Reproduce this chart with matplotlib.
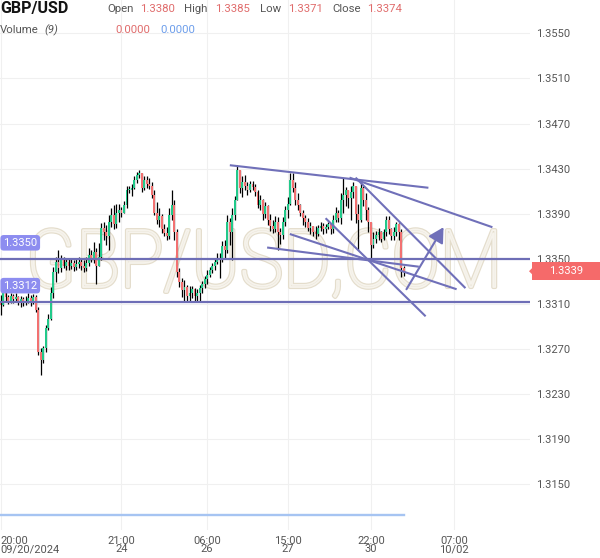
import matplotlib
matplotlib.use("Agg")
import matplotlib.pyplot as plt
import numpy as np
from matplotlib import patheffects
from matplotlib.transforms import Affine2D, blended_transform_factory
from matplotlib.patches import Rectangle, Polygon

plt.rcParams['font.family'] = ['Roboto', 'DejaVu Sans']

# ---------------- data ----------------
first_open = 1.3313
close = [1.3309, 1.3322, 1.3316, 1.3313, 1.3317, 1.3314, 1.3316, 1.3311, 1.3314, 1.3311,
         1.3313, 1.3315, 1.3311, 1.3316, 1.3305, 1.3267, 1.3260, 1.3271, 1.3289, 1.3297,
         1.3320, 1.3338, 1.3347, 1.3342, 1.3349, 1.3344, 1.3347, 1.3344, 1.3346, 1.3343,
         1.3345, 1.3347, 1.3344, 1.3342, 1.3346, 1.3353, 1.3351, 1.3356, 1.3344, 1.3352,
         1.3377, 1.3374, 1.3370, 1.3383, 1.3389, 1.3381, 1.3391, 1.3393, 1.3391, 1.3398,
         1.3411, 1.3411, 1.3413, 1.3420, 1.3424, 1.3426, 1.3413, 1.3420, 1.3416, 1.3415,
         1.3407, 1.3391, 1.3384, 1.3388, 1.3376, 1.3373, 1.3370, 1.3389, 1.3398, 1.3374,
         1.3338, 1.3329, 1.3322, 1.3325, 1.3317, 1.3320, 1.3323, 1.3317, 1.3320, 1.3324,
         1.3328, 1.3332, 1.3336, 1.3340, 1.3344, 1.3347, 1.3351, 1.3349, 1.3361, 1.3358,
         1.3383, 1.3374, 1.3389, 1.3402, 1.3429, 1.3413, 1.3418, 1.3415, 1.3411, 1.3416,
         1.3414, 1.3409, 1.3398, 1.3402, 1.3390, 1.3397, 1.3384, 1.3379, 1.3376, 1.3383,
         1.3374, 1.3371, 1.3383, 1.3393, 1.3399, 1.3420, 1.3413, 1.3402, 1.3398, 1.3391,
         1.3386, 1.3383, 1.3377, 1.3379, 1.3374, 1.3372, 1.3377, 1.3379, 1.3376, 1.3378,
         1.3381, 1.3376, 1.3384, 1.3391, 1.3386, 1.3402, 1.3407, 1.3411, 1.3404, 1.3409,
         1.3415, 1.3390, 1.3384, 1.3413, 1.3402, 1.3393, 1.3383, 1.3362, 1.3368, 1.3371,
         1.3374, 1.3368, 1.3374, 1.3384, 1.3376, 1.3370, 1.3374, 1.3381, 1.3374, 1.3342,
         1.3339]
high = [1.3318, 1.3325, 1.3324, 1.3318, 1.3320, 1.3319, 1.3320, 1.3317, 1.3317, 1.3316,
        1.3317, 1.3320, 1.3318, 1.3319, 1.3318, 1.3307, 1.3271, 1.3273, 1.3291, 1.3301,
        1.3325, 1.3343, 1.3352, 1.3358, 1.3353, 1.3352, 1.3351, 1.3350, 1.3351, 1.3349,
        1.3351, 1.3352, 1.3351, 1.3349, 1.3352, 1.3360, 1.3358, 1.3365, 1.3360, 1.3364,
        1.3382, 1.3383, 1.3380, 1.3389, 1.3395, 1.3398, 1.3399, 1.3399, 1.3396, 1.3401,
        1.3415, 1.3415, 1.3416, 1.3423, 1.3427, 1.3429, 1.3424, 1.3423, 1.3423, 1.3422,
        1.3418, 1.3411, 1.3400, 1.3395, 1.3390, 1.3381, 1.3378, 1.3395, 1.3411, 1.3402,
        1.3376, 1.3342, 1.3333, 1.3331, 1.3327, 1.3326, 1.3326, 1.3324, 1.3323, 1.3327,
        1.3330, 1.3335, 1.3340, 1.3343, 1.3346, 1.3350, 1.3355, 1.3355, 1.3366, 1.3367,
        1.3389, 1.3386, 1.3395, 1.3406, 1.3433, 1.3429, 1.3423, 1.3424, 1.3418, 1.3419,
        1.3419, 1.3416, 1.3411, 1.3407, 1.3403, 1.3400, 1.3398, 1.3390, 1.3384, 1.3388,
        1.3387, 1.3377, 1.3387, 1.3397, 1.3405, 1.3426, 1.3426, 1.3418, 1.3408, 1.3399,
        1.3393, 1.3389, 1.3386, 1.3383, 1.3377, 1.3379, 1.3380, 1.3383, 1.3382, 1.3381,
        1.3383, 1.3381, 1.3389, 1.3396, 1.3393, 1.3408, 1.3422, 1.3414, 1.3411, 1.3415,
        1.3418, 1.3406, 1.3399, 1.3420, 1.3415, 1.3408, 1.3396, 1.3377, 1.3374, 1.3375,
        1.3377, 1.3375, 1.3376, 1.3388, 1.3388, 1.3377, 1.3378, 1.3383, 1.3382, 1.3376,
        1.3344]
low = [1.3300, 1.3308, 1.3313, 1.3310, 1.3311, 1.3311, 1.3312, 1.3309, 1.3307, 1.3308,
       1.3309, 1.3311, 1.3308, 1.3310, 1.3303, 1.3265, 1.3247, 1.3258, 1.3267, 1.3287,
       1.3296, 1.3315, 1.3329, 1.3337, 1.3338, 1.3342, 1.3340, 1.3340, 1.3341, 1.3339,
       1.3340, 1.3342, 1.3340, 1.3338, 1.3339, 1.3344, 1.3347, 1.3346, 1.3328, 1.3347,
       1.3349, 1.3367, 1.3362, 1.3358, 1.3378, 1.3376, 1.3377, 1.3383, 1.3387, 1.3391,
       1.3395, 1.3408, 1.3406, 1.3412, 1.3417, 1.3422, 1.3409, 1.3411, 1.3413, 1.3412,
       1.3404, 1.3389, 1.3381, 1.3378, 1.3373, 1.3370, 1.3367, 1.3368, 1.3384, 1.3367,
       1.3334, 1.3325, 1.3316, 1.3313, 1.3312, 1.3312, 1.3315, 1.3313, 1.3312, 1.3312,
       1.3320, 1.3324, 1.3328, 1.3334, 1.3337, 1.3340, 1.3345, 1.3333, 1.3347, 1.3351,
       1.3355, 1.3362, 1.3349, 1.3384, 1.3402, 1.3408, 1.3405, 1.3411, 1.3407, 1.3409,
       1.3411, 1.3406, 1.3395, 1.3393, 1.3384, 1.3386, 1.3380, 1.3375, 1.3373, 1.3374,
       1.3358, 1.3363, 1.3368, 1.3379, 1.3386, 1.3398, 1.3409, 1.3398, 1.3393, 1.3388,
       1.3380, 1.3378, 1.3375, 1.3372, 1.3370, 1.3368, 1.3370, 1.3375, 1.3372, 1.3373,
       1.3376, 1.3372, 1.3373, 1.3383, 1.3383, 1.3381, 1.3391, 1.3397, 1.3395, 1.3384,
       1.3404, 1.3382, 1.3358, 1.3383, 1.3397, 1.3384, 1.3374, 1.3349, 1.3360, 1.3364,
       1.3367, 1.3365, 1.3367, 1.3370, 1.3372, 1.3367, 1.3367, 1.3370, 1.3367, 1.3334,
       1.3335]
volume_ma = [0.0] * len(close)

tick_index = [0, 48, 82, 114, 147, 180]
tick_labels = ["20:00\n09/20/2024", "21:00\n24", "06:00\n26", "15:00\n27", "22:00\n30", "07:00\n10/02"]
price_ticks = [1.3150, 1.3190, 1.3230, 1.3270, 1.3310, 1.3350, 1.3390, 1.3430, 1.3470, 1.3510, 1.3550]

h_levels = [1.3350, 1.3312]
last_price = 1.3339

# trend lines: (index0, price0, index1, price1)
trend_lines = [
    (91.0, 1.3433, 169.8, 1.3413),
    (138.5, 1.3422, 195.2, 1.3378),
    (140.9, 1.3422, 184.5, 1.3324),
    (129.0, 1.3386, 168.7, 1.3299),
    (114.8, 1.3372, 181.0, 1.3323),
    (105.8, 1.3360, 166.0, 1.3343),
]
arrow_line = (161.1, 1.3323, 175.8, 1.3378)

header_items = [("Open", "1.3380"), ("High", "1.3385"), ("Low", "1.3371"), ("Close", "1.3374")]
volume_values = ["0.0000", "0.0000"]

# ---------------- figure ----------------
W, H = 600, 558
fig = plt.figure(figsize=(W / 100, H / 100), dpi=100)
fig.patch.set_facecolor('white')

def fx(x):
    return x / W

def fy(y):
    return 1 - y / H

ax = fig.add_axes([0, fy(530), fx(530), 530 / H])
ax.set_facecolor('white')
px_per_bar = 2.52
ax.set_xlim(-0.2, -0.2 + 530 / px_per_bar)
ppx = 0.004 / 45.1
ytop = 1.3550 + 33.3 * ppx
ax.set_ylim(ytop - 530 * ppx, ytop)

for s in ax.spines.values():
    s.set_visible(False)

grid_c = '#f0f0f0'
for t in tick_index:
    ax.axvline(t, color=grid_c, lw=0.8, zorder=0)
for p in price_ticks:
    ax.axhline(p, color=grid_c, lw=0.8, zorder=0)

ax.yaxis.tick_right()
ax.set_yticks(price_ticks)
ax.set_yticklabels([f"{p:.4f}" for p in price_ticks])
ax.tick_params(axis='y', length=0, pad=4.5, labelsize=8, labelcolor='#555555')
ax.set_xticks(tick_index)
ax.set_xticklabels(tick_labels, linespacing=0.85)
ax.tick_params(axis='x', length=0, pad=4, labelsize=8, labelcolor='#555555')
xl = ax.get_xticklabels()
xl[0].set_horizontalalignment('left')
xl[0].set_multialignment('left')

# watermark (outlined text, slightly condensed)
wm_x, wm_y = 264 / 530, 1 - 287 / 530


class ScaledStroke(patheffects.AbstractPathEffect):
    def __init__(self, sx, sy, lw, color):
        super().__init__()
        self.sx, self.sy, self.lw, self.color = sx, sy, lw, color

    def draw_path(self, renderer, gc, tpath, affine, rgbFace=None):
        cx, cy = ax.transAxes.transform((wm_x, wm_y))
        t = affine + Affine2D().translate(-cx, -cy).scale(self.sx, self.sy).translate(cx, cy)
        gc0 = renderer.new_gc()
        gc0.copy_properties(gc)
        gc0.set_linewidth(self.lw)
        gc0.set_foreground(self.color)
        gc0.set_joinstyle('round')
        renderer.draw_path(gc0, tpath, t, None)
        gc0.restore()


ax.text(wm_x, wm_y, "GBP/USD,COM", transform=ax.transAxes, ha='center', va='baseline',
        fontsize=57.6, fontweight='light', color='none', zorder=1,
        path_effects=[ScaledStroke(0.91, 1.0, 3.0, '#e4ddcc'),
                      ScaledStroke(0.91, 1.0, 1.3, '#f6f3ec')])

# candles
n = len(close)
idx = np.arange(n)
opens = np.array([first_open] + close[:-1])
c = np.array(close)
hi = np.maximum(np.array(high), np.maximum(opens, c))
lo = np.minimum(np.array(low), np.minimum(opens, c))
up = c >= opens
ax.vlines(idx, lo, hi, color='black', lw=0.9, zorder=3)
body_bottom = np.minimum(opens, c)
body_h = np.maximum(np.abs(c - opens), 0.00008)
colors = np.where(up, '#22c98a', '#f27171')
ax.bar(idx, body_h, bottom=body_bottom, width=0.75, color=colors, zorder=4, linewidth=0)

# horizontal levels
line_c = '#6e6eb6'
for lv in h_levels:
    ax.axhline(lv, color=line_c, lw=1.6, zorder=5)
    ax.annotate(f"{lv:.4f}", xy=(0.006, lv), xycoords=('axes fraction', 'data'),
                xytext=(0, 16), textcoords='offset pixels', ha='left', va='center',
                fontsize=8, color='white', zorder=7,
                bbox=dict(boxstyle='round,pad=0.25,rounding_size=0.3', fc='#8d8df0', ec='none'))

# trend lines
tl_c = '#7070b9'
for (i0, p0, i1, p1) in trend_lines:
    ax.plot([i0, i1], [p0, p1], color=tl_c, lw=1.5, zorder=6, solid_capstyle='butt')
ax.annotate('', xy=(arrow_line[2], arrow_line[3]), xytext=(arrow_line[0], arrow_line[1]),
            xycoords='data', textcoords='data', zorder=6,
            arrowprops=dict(arrowstyle='-|>,head_length=0.9,head_width=0.5', color=tl_c,
                            lw=1.5, shrinkA=0, shrinkB=0))

# current price tag
bt = blended_transform_factory(fig.transFigure, ax.transData)
tag_h = 18 * ppx
ax.add_artist(Rectangle((fx(532), last_price - tag_h / 2), fx(600) - fx(532), tag_h,
                        transform=bt, facecolor='#f56a6a', edgecolor='none', clip_on=False, zorder=8))
ax.add_artist(Polygon([(fx(529), last_price), (fx(533), last_price + 4 * ppx), (fx(533), last_price - 4 * ppx)],
                      closed=True, transform=bt, facecolor='#f56a6a', edgecolor='none', clip_on=False, zorder=8))
ax.text(fx(566), last_price, f"{last_price:.4f}", transform=bt, ha='center', va='center',
        fontsize=8, color='white', zorder=9, clip_on=False)

# volume pane
axv = fig.add_axes([0, fy(530), fx(530), 30 / H])
axv.set_xlim(ax.get_xlim())
axv.set_ylim(-1, 1)
axv.patch.set_alpha(0)
axv.axis('off')
axv.plot(idx, volume_ma, color='#a6c4f2', lw=1.7)

# header
fig.text(fx(0), fy(9), "GBP/USD", ha='left', va='center', fontsize=11.5, fontweight='bold', color='#131313')
hx = [(107, 140), (184, 215), (260, 288), (332, 367)]
for (lab, val), (xl_, xv) in zip(header_items, hx):
    fig.text(fx(xl_), fy(9.5), lab, ha='left', va='center', fontsize=8.2, color='#555555')
    fig.text(fx(xv), fy(8.5), val, ha='left', va='center', fontsize=8.2, color='#e06c6c')
fig.text(fx(0), fy(30), "Volume", ha='left', va='center', fontsize=8.2, color='#555555')
fig.text(fx(44), fy(30), "(9)", ha='left', va='center', fontsize=8.2, color='#555555', fontstyle='italic')
fig.text(fx(115), fy(30), volume_values[0], ha='left', va='center', fontsize=8.2, color='#e06c6c')
fig.text(fx(160), fy(30), volume_values[1], ha='left', va='center', fontsize=8.2, color='#6d9eeb')

fig.savefig("out.png", dpi=100, facecolor='white')
